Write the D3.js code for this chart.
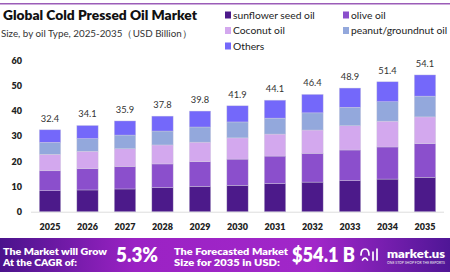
<!DOCTYPE html>
<html>
<head>
<meta charset="utf-8">
<script src="https://cdn.jsdelivr.net/npm/d3@7"></script>
<style>
	html, body { margin: 0; padding: 0; background: #fff; }
	svg { display: block; font-family: Lato, "Open Sans", sans-serif; }
</style>
</head>
<body>
<svg id="chart" width="450" height="280"></svg>
<script>
var years = ['2025','2026','2027','2028','2029','2030','2031','2032','2033','2034','2035'];
var totals = [32.4, 34.1, 35.9, 37.8, 39.8, 41.9, 44.1, 46.4, 48.9, 51.4, 54.1];
var seriesNames = ['sunflower seed oil', 'olive oil', 'Coconut oil', 'peanut/groundnut oil', 'Others'];
var sunflower = [8.3, 8.6, 9.0, 9.5, 10.0, 10.4, 11.1, 11.7, 12.3, 12.9, 13.6];
var olive     = [7.9, 8.4, 8.9, 9.4, 9.8, 10.4, 10.9, 11.4, 12.1, 12.7, 13.3];
var coconut   = [6.5, 6.9, 7.0, 7.5, 7.7, 8.4, 8.7, 9.2, 9.6, 10.2, 10.6];
var peanut    = [4.7, 5.0, 5.4, 5.5, 6.0, 6.3, 6.3, 6.8, 7.3, 7.7, 8.2];
var others    = [5.0, 5.2, 5.6, 5.9, 6.3, 6.4, 7.1, 7.3, 7.6, 7.9, 8.4];
var yTicks = [0, 10, 20, 30, 40, 50, 60];
var cagr = '5.3%';
var forecast = '$54.1 B';

+function(){
	var colors = ['#4c1a8a', '#8b4fcc', '#d3a8ee', '#93a8dc', '#7468fa'];
	var svg = d3.select('#chart');

	// fit a text to a measured width
	function fit(sel, w){
		return sel.attr('textLength', w).attr('lengthAdjust', 'spacingAndGlyphs');
	}

	// top rule
	svg.append('rect').attr('x', 0).attr('y', 3).attr('width', 450).attr('height', 1.5).attr('fill', '#9b5db8');

	// title
	fit(svg.append('text').attr('x', 3).attr('y', 20)
		.attr('font-size', 12.5).attr('font-weight', 800).attr('fill', '#111')
		.text('Global Cold Pressed Oil Market'), 194);
	fit(svg.append('text').attr('x', 1).attr('y', 37)
		.attr('font-size', 9.5).attr('fill', '#333')
		.text('Size, by oil Type, 2025-2035（USD Billion）'), 191);

	// legend
	var legendPos = [[225, 15], [343, 15], [225, 30.5], [343, 30.5], [225, 46]];
	var lg = svg.selectAll('g.legend').data(seriesNames).enter()
		.append('g').attr('class', 'legend')
		.attr('transform', function(d, i){ return 'translate(' + legendPos[i][0] + ',' + legendPos[i][1] + ')'; });
	lg.append('rect').attr('x', 0).attr('y', -3.5).attr('width', 6).attr('height', 7)
		.attr('fill', function(d, i){ return colors[i]; });
	lg.append('text').attr('x', 8).attr('y', 3.5)
		.attr('font-size', 10.3).attr('fill', '#222')
		.text(function(d){ return d; });

	// stacked data
	var rows = years.map(function(y, i){
		return { year: y, total: totals[i], s0: sunflower[i], s1: olive[i], s2: coconut[i], s3: peanut[i], s4: others[i] };
	});
	var stack = d3.stack().keys(['s0', 's1', 's2', 's3', 's4'])(rows);

	var x = d3.scaleBand().domain(years).range([31.25, 443.75]).paddingInner(0.43).paddingOuter(0.215);
	var y = d3.scaleLinear().domain([0, 60]).range([211.7, 60]);

	// y axis labels
	svg.selectAll('text.ytick').data(yTicks).enter()
		.append('text').attr('class', 'ytick')
		.attr('x', 22).attr('y', function(d){ return y(d) + 3.5; })
		.attr('text-anchor', 'end').attr('font-size', 9).attr('font-weight', 800).attr('fill', '#222')
		.text(function(d){ return d; });

	// baseline
	svg.append('line').attr('x1', 31).attr('x2', 444).attr('y1', y(0) + 0.5).attr('y2', y(0) + 0.5)
		.attr('stroke', '#ddd').attr('stroke-width', 1);

	svg.selectAll('g.layer').data(stack).enter()
		.append('g').attr('class', 'layer')
		.attr('fill', function(d, i){ return colors[i]; })
		.selectAll('rect').data(function(d){ return d; }).enter()
		.append('rect')
		.attr('x', function(d){ return x(d.data.year); })
		.attr('width', x.bandwidth())
		.attr('y', function(d){ return y(d[1]); })
		.attr('height', function(d){ return y(d[0]) - y(d[1]); })
		.attr('stroke', 'rgba(210,210,220,0.6)').attr('stroke-width', 0.6);

	// totals
	svg.selectAll('text.total').data(rows).enter()
		.append('text').attr('class', 'total')
		.attr('x', function(d){ return x(d.year) + x.bandwidth() / 2; })
		.attr('y', function(d){ return y(d.total) - 8; })
		.attr('text-anchor', 'middle').attr('font-size', 9.3).attr('fill', '#333')
		.text(function(d){ return d.total; });

	// x labels
	svg.selectAll('text.xtick').data(years).enter()
		.append('text').attr('class', 'xtick')
		.attr('x', function(d){ return x(d) + x.bandwidth() / 2; })
		.attr('y', 230)
		.attr('text-anchor', 'middle').attr('font-size', 9).attr('font-weight', 800).attr('fill', '#222')
		.text(function(d){ return d; });

	// banner
	var defs = svg.append('defs');
	var grad = defs.append('linearGradient').attr('id', 'bannerGrad').attr('x1', 0).attr('x2', 1).attr('y1', 0).attr('y2', 0);
	grad.append('stop').attr('offset', 0).attr('stop-color', '#4a138c');
	grad.append('stop').attr('offset', 0.3).attr('stop-color', '#9b22c4');
	grad.append('stop').attr('offset', 0.7).attr('stop-color', '#a127c9');
	grad.append('stop').attr('offset', 1).attr('stop-color', '#4f1696');
	svg.append('rect').attr('x', 0).attr('y', 238).attr('width', 450).attr('height', 34).attr('fill', 'url(#bannerGrad)');

	var banner = svg.append('g').attr('fill', '#fff').attr('font-weight', 800);
	fit(banner.append('text').attr('x', 3).attr('y', 254.5).attr('font-size', 10).text('The Market will Grow'), 104);
	fit(banner.append('text').attr('x', 3).attr('y', 266).attr('font-size', 10).text('At the CAGR of:'), 74);
	fit(banner.append('text').attr('x', 116).attr('y', 262).attr('font-size', 20).text(cagr), 42);
	fit(banner.append('text').attr('x', 174).attr('y', 254.5).attr('font-size', 10).text('The Forecasted Market'), 114);
	fit(banner.append('text').attr('x', 174).attr('y', 266).attr('font-size', 10).text('Size for 2035 in USD:'), 106);
	fit(banner.append('text').attr('x', 292).attr('y', 262).attr('font-size', 20).text(forecast), 63);

	// logo
	var logo = svg.append('g').attr('transform', 'translate(361,249)')
		.attr('fill', 'none').attr('stroke', '#fff').attr('stroke-width', 1.7).attr('stroke-linecap', 'round');
	logo.append('path').attr('d', 'M0,6 Q0,0 4,0 Q8,0 8,6 M1.5,11 Q4,7 6.5,11');
	logo.append('path').attr('d', 'M12,3 L12,11 M16,0 L16,11');
	fit(svg.append('text').attr('x', 387).attr('y', 258).attr('font-size', 12).attr('font-weight', 800).attr('fill', '#fff').text('market.us'), 58);
	fit(svg.append('text').attr('x', 387).attr('y', 264).attr('font-size', 2.8).attr('fill', '#eee').text('ONE STOP SHOP FOR THE REPORTS'), 58);
}();
</script>
</body>
</html>
